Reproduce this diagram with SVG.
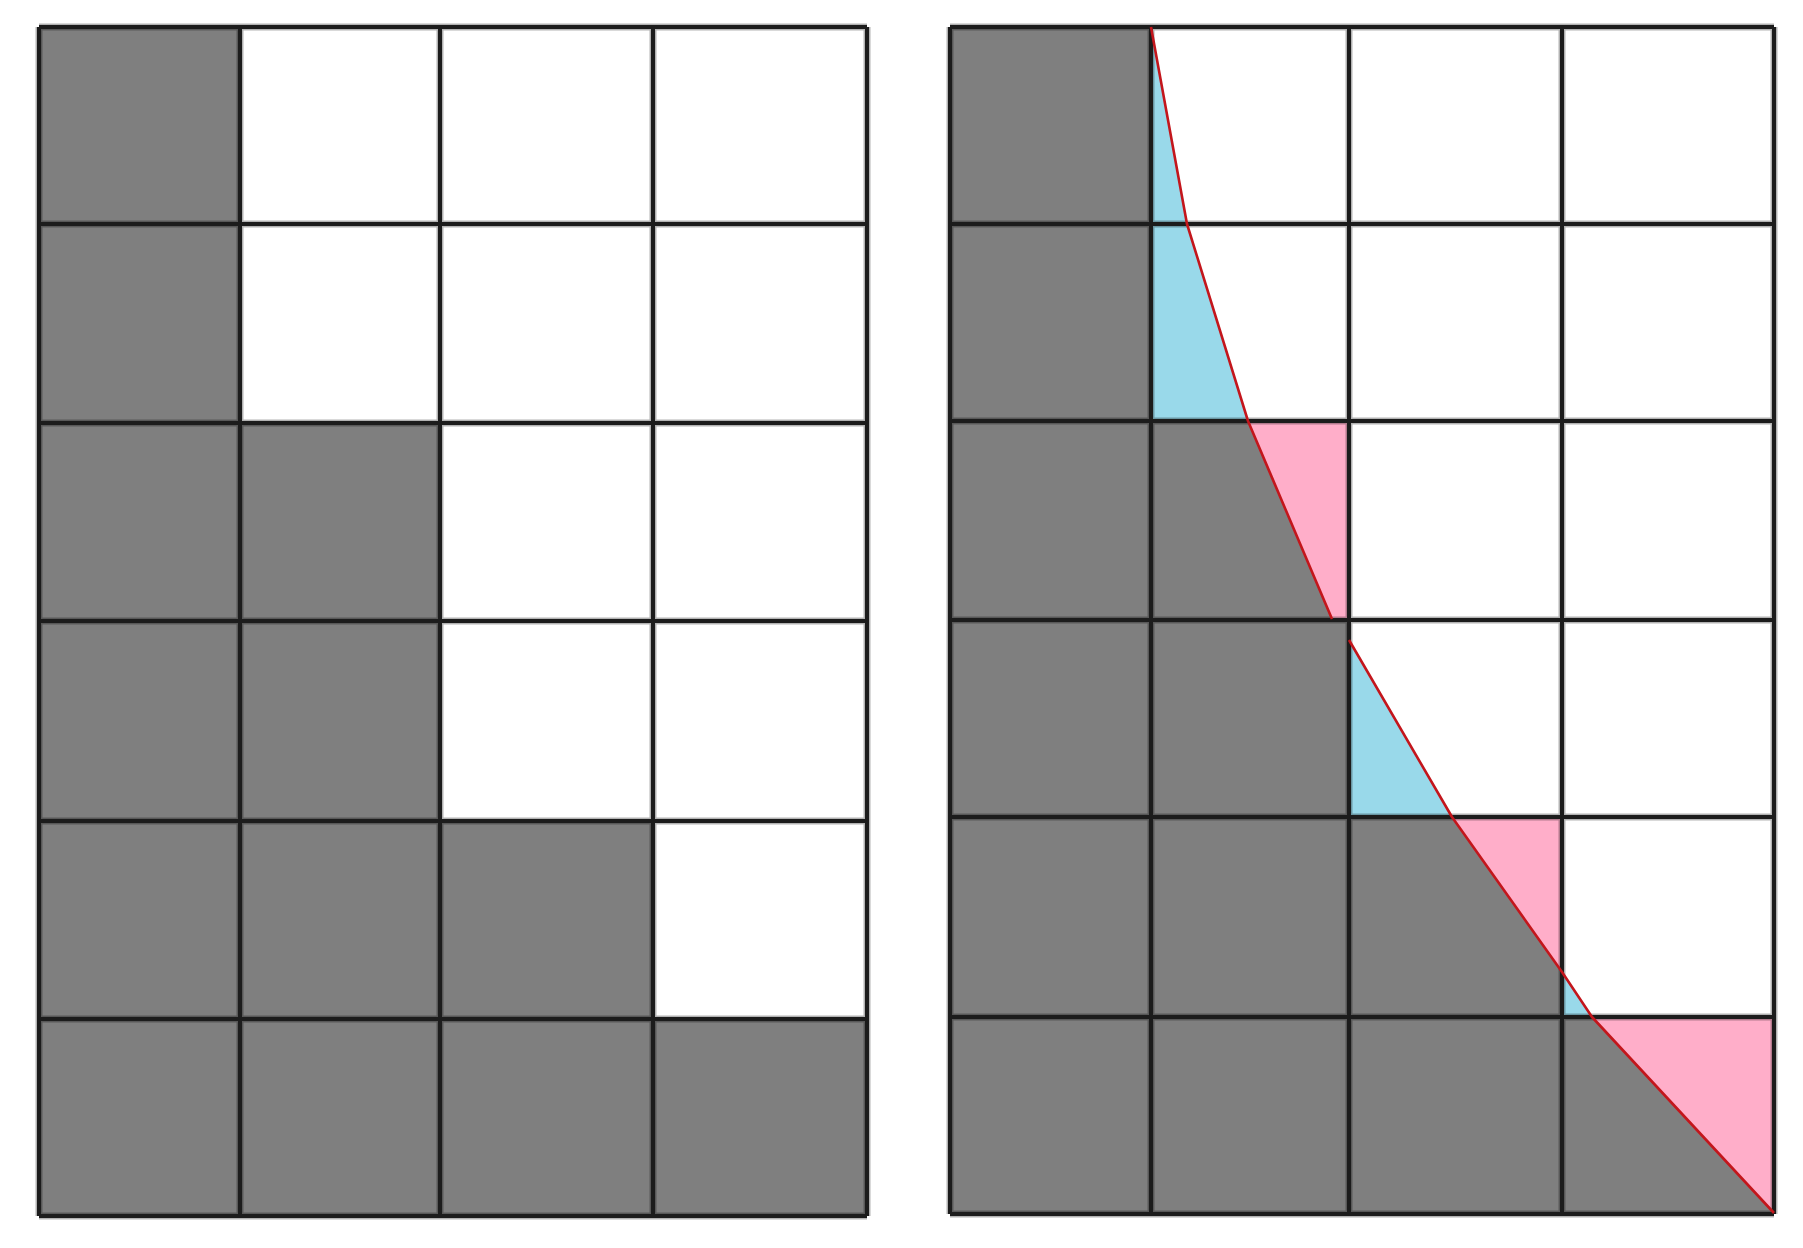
<svg xmlns="http://www.w3.org/2000/svg" width="1803" height="1248" viewBox="0 0 1803 1248">
<style>
.bg{fill:#ffffff}
.g{fill:#7f7f7f}
.b{fill:#99d9ea}
.p{fill:#ffaec9}
.halo{stroke:#000;stroke-opacity:0.3;stroke-width:7;fill:none}
.ln{stroke:#1c1c1c;stroke-width:4;fill:none}
.crv{stroke:#c3161c;stroke-width:2.6;fill:none;stroke-linejoin:round}
</style>
<rect width="1803" height="1248" fill="#ffffff"/>
<g id="left-grid">
  <g id="left-fill">
    <rect class="g" x="39" y="27" width="201" height="1189"/>
    <rect class="g" x="240" y="423" width="200" height="793"/>
    <rect class="g" x="440" y="821" width="213" height="395"/>
    <rect class="g" x="653" y="1019" width="214" height="197"/>
  </g>
  <path class="halo" d="M39 27V1216M240 27V1216M440 27V1216M653 27V1216M867 27V1216M39 27H867M39 224H867M39 423H867M39 621H867M39 821H867M39 1019H867M39 1216H867"/>
  <path class="ln" d="M39 27V1216M240 27V1216M440 27V1216M653 27V1216M867 27V1216M39 27H867M39 224H867M39 423H867M39 621H867M39 821H867M39 1019H867M39 1216H867"/>
</g>
<g id="right-grid">
  <g id="right-fill">
    <rect class="g" x="950" y="27" width="201" height="1187"/>
    <rect class="g" x="1151" y="421" width="198" height="793"/>
    <rect class="g" x="1349" y="817" width="213" height="397"/>
    <rect class="g" x="1562" y="1017" width="212" height="197"/>
  </g>
  <g id="missing-area">
    <polygon class="b" points="1151,27 1187,224 1248,421 1151,421"/>
    <polygon class="b" points="1349,640 1452,817 1349,817"/>
    <polygon class="b" points="1562,972 1592,1017 1562,1017"/>
  </g>
  <g id="excess-area">
    <polygon class="p" points="1248,421 1349,421 1349,620 1332,620"/>
    <polygon class="p" points="1452,817 1562,817 1562,972"/>
    <polygon class="p" points="1592,1017 1774,1017 1774,1214"/>
  </g>
  <path class="halo" d="M950 27V1214M1151 27V1214M1349 27V1214M1562 27V1214M1774 27V1214M950 27H1774M950 224H1774M950 421H1774M950 620H1774M950 817H1774M950 1017H1774M950 1214H1774"/>
  <path class="ln" d="M950 27V1214M1151 27V1214M1349 27V1214M1562 27V1214M1774 27V1214M950 27H1774M950 224H1774M950 421H1774M950 620H1774M950 817H1774M950 1017H1774M950 1214H1774"/>
  <g id="curve">
    <polyline class="crv" points="1151,27 1187,224 1248,421 1332,619"/>
    <polyline class="crv" points="1349,640 1452,817 1562,972 1592,1017 1774,1213"/>
  </g>
</g>
</svg>
